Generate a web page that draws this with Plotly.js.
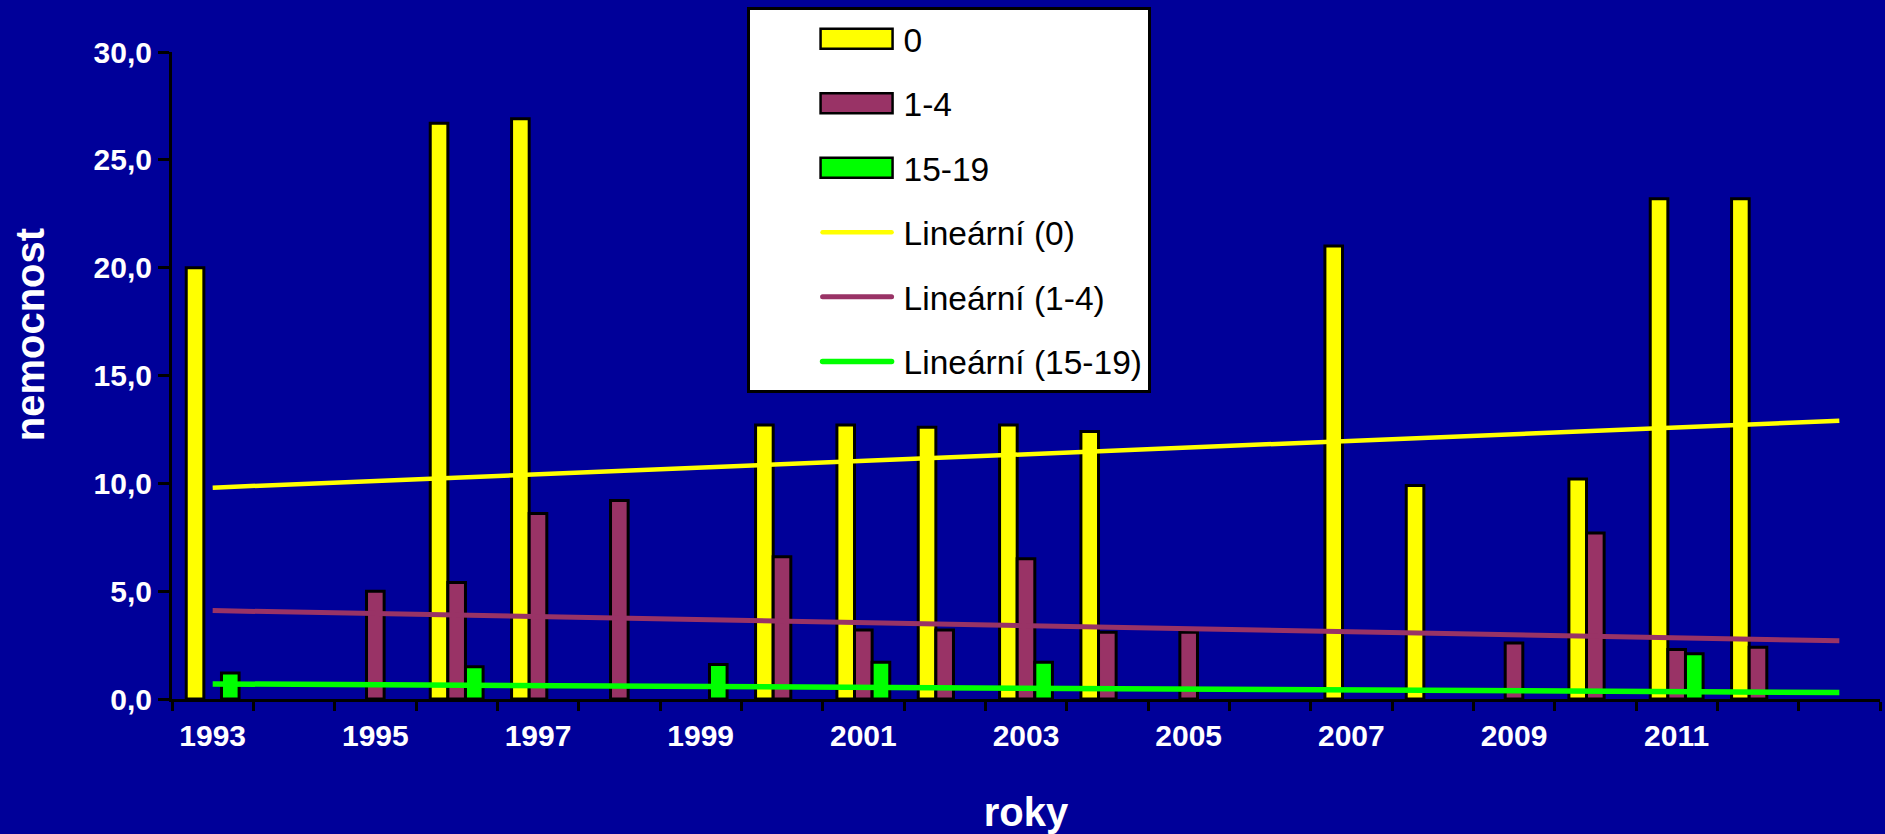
<!DOCTYPE html>
<html>
<head>
<meta charset="utf-8">
<script src="https://cdn.plot.ly/plotly-3.0.1.min.js"></script>
<style>
  html, body { margin: 0; padding: 0; background: #000099; }
  #chart { width: 1885px; height: 834px; }
</style>
</head>
<body>
<div id="chart"></div>
<script>
// Categories (years) for the bars
var years = [1993, 1994, 1995, 1996, 1997, 1998, 1999, 2000, 2001, 2002,
             2003, 2004, 2005, 2006, 2007, 2008, 2009, 2010, 2011, 2012];

// Series values (nemocnost)
var age0    = [20.0, null, null, 26.7, 26.9, null, null, 12.7, 12.7, 12.6,
               12.7, 12.4, null, null, 21.0, 9.9, null, 10.2, 23.2, 23.2];
var age1_4  = [null, null, 5.0, 5.4, 8.6, 9.2, null, 6.6, 3.2, 3.2,
               6.5, 3.1, 3.1, null, null, null, 2.6, 7.7, 2.3, 2.4];
var age15_19 = [1.2, null, null, 1.5, null, null, 1.6, null, 1.7, null,
               1.7, null, null, null, null, null, null, null, 2.1, null];

// Linear trend lines (end points, 1993 -> 2013)
var trendYears = [1993, 2013];
var trend0     = [9.8, 12.9];
var trend1_4   = [4.1, 2.7];
var trend15_19 = [0.7, 0.3];

// Tick labels on the x axis
var tickYears = [1993, 1995, 1997, 1999, 2001, 2003, 2005, 2007, 2009, 2011];
var tickText  = tickYears.map(String);

var names = ['0', '1-4', '15-19', 'Lineární (0)', 'Lineární (1-4)', 'Lineární (15-19)'];
var colors = ['#FFFF00', '#993366', '#00FF00'];

var barLine = {color: '#000000', width: 3};

var traces = [
  {type: 'bar', x: years, y: age0, name: names[0], legendgroup: 'a',
   marker: {color: colors[0], line: barLine}},
  {type: 'bar', x: years, y: age1_4, name: names[1], legendgroup: 'b',
   marker: {color: colors[1], line: barLine}},
  {type: 'bar', x: years, y: age15_19, name: names[2], legendgroup: 'c',
   marker: {color: colors[2], line: barLine}},
  {type: 'scatter', mode: 'lines', x: trendYears, y: trend0, name: names[3], legendgroup: 'd',
   line: {color: colors[0], width: 4.5}},
  {type: 'scatter', mode: 'lines', x: trendYears, y: trend1_4, name: names[4], legendgroup: 'e',
   line: {color: colors[1], width: 5}},
  {type: 'scatter', mode: 'lines', x: trendYears, y: trend15_19, name: names[5], legendgroup: 'f',
   line: {color: colors[2], width: 5.5}}
];

var fontFam = '"Liberation Sans", Arial, sans-serif';

var layout = {
  width: 1885, height: 834,
  paper_bgcolor: '#000099',
  plot_bgcolor: '#000099',
  separators: ', ',
  font: {family: fontFam, color: '#FFFFFF'},
  margin: {l: 172, r: 5, t: 52, b: 135},
  barmode: 'group',
  bargap: 0.35,
  bargroupgap: 0,
  showlegend: true,
  legend: {
    x: 0.3364, xanchor: 'left',
    y: 1.069, yanchor: 'top',
    bgcolor: '#FFFFFF',
    bordercolor: '#000000',
    borderwidth: 3,
    font: {family: fontFam, size: 33.5, color: '#000000'},
    tracegroupgap: 18,
    indentation: 68,
    itemwidth: 76
  },
  xaxis: {
    type: 'linear',
    range: [1992.5, 2013.5],
    showgrid: false,
    zeroline: false,
    showline: true,
    linecolor: '#000000',
    linewidth: 3,
    tickmode: 'array',
    tickvals: tickYears,
    ticktext: tickText,
    ticks: '',
    ticklabelstandoff: 8,
    tickfont: {family: fontFam, size: 30, color: '#FFFFFF', weight: 'bold'},
    minor: {tick0: 1992.5, dtick: 1, ticks: 'outside', ticklen: 9, tickwidth: 3, tickcolor: '#000000', showgrid: false},
    title: {text: 'roky', font: {family: fontFam, size: 40, color: '#FFFFFF', weight: 'bold'}, standoff: 50}
  },
  yaxis: {
    range: [0, 30],
    dtick: 5,
    tick0: 0,
    tickformat: '.1f',
    showgrid: false,
    zeroline: false,
    showline: true,
    linecolor: '#000000',
    linewidth: 3,
    ticks: 'outside',
    ticklen: 11,
    tickwidth: 3,
    tickcolor: '#000000',
    tickfont: {family: fontFam, size: 30, color: '#FFFFFF', weight: 'bold'}
  },
  annotations: [{
    text: 'nemocnost',
    xref: 'paper', yref: 'paper',
    x: -0.0831, y: 0.5623,
    xanchor: 'center', yanchor: 'middle',
    textangle: -90,
    showarrow: false,
    font: {family: fontFam, size: 40, color: '#FFFFFF', weight: 'bold'}
  }]
};

var gd = document.getElementById('chart');

// Restyle the legend symbols drawn by Plotly: wide bar swatches and
// trend-line samples that stop a little before the text, as in the original.
function fixLegend() {
  var items = gd.querySelectorAll('.legend .traces');
  items.forEach(function (item, i) {
    if (i < 3) {
      item.querySelectorAll('.legendpoints path').forEach(function (p) {
        if (p.getAttribute('data-wide')) return;
        p.setAttribute('d', 'M32,10H-40V-10H32Z');
        p.setAttribute('data-wide', '1');
        p.style.strokeWidth = '2.5px';
        p.style.stroke = '#000000';
      });
    } else {
      item.querySelectorAll('path.js-line').forEach(function (p) {
        if (p.getAttribute('data-short')) return;
        var d = p.getAttribute('d') || '';
        var m = d.match(/^M([-\d.]+),([-\d.]+)h([-\d.]+)/);
        if (m) {
          p.setAttribute('d', 'M' + m[1] + ',' + m[2] + 'h' + (parseFloat(m[3]) - 7));
          p.setAttribute('data-short', '1');
        }
        p.style.strokeLinecap = 'round';
      });
    }
  });
}

Plotly.newPlot(gd, traces, layout, {displayModeBar: false, staticPlot: true}).then(function () {
  fixLegend();
  gd.on('plotly_afterplot', fixLegend);
  setTimeout(fixLegend, 0);
  setTimeout(fixLegend, 200);
  setTimeout(fixLegend, 800);
});
</script>
</body>
</html>
